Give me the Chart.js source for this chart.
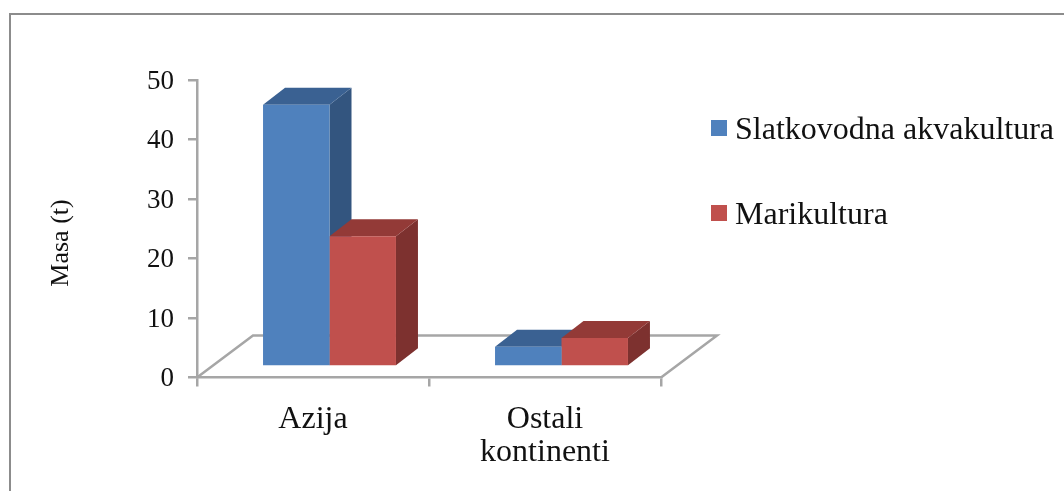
<!DOCTYPE html>
<html lang="en">
<head>
    <meta charset="UTF-8">
    <title>Masa</title>
    <script src="https://cdn.jsdelivr.net/npm/chart.js@4/dist/chart.umd.min.js"></script>
    <style>
        html, body { margin: 0; padding: 0; background: #fff; overflow: hidden; }
        #frame { position: absolute; left: 9px; top: 13px; right: -5px; bottom: -5px; border: 2px solid #8c8c8c; }
        #canvas { position: absolute; left: 0; top: 0; }
    </style>
</head>
<body>
<div id="frame"></div>
<canvas id="canvas" width="1064" height="491"></canvas>
<script>
    var CATEGORIES = ['Azija', ['Ostali', 'kontinenti']];
    var SLATKOVODNA = [44.0, 3.3];
    var MARIKULTURA = [21.9, 4.8];
    var SERIES_NAMES = ['Slatkovodna akvakultura', 'Marikultura'];
    var Y_TITLE = 'Masa (t)';

    var AXIS_GRAY = '#a6a6a6';
    var AXIS_WIDTH = 2.5;
    var TEXT = '#111';
    var SERIF = '"Liberation Serif", serif';

    // pseudo 3d: how far the bars sit from the axis and how deep they are
    var SHIFT_X = 16.5, SHIFT_Y = -11;
    var DEPTH_X = 22, DEPTH_Y = -17;
    var FLOOR_X = 56, FLOOR_Y = -42;

    var FRONT = ['#4f81bd', '#c0504d'];
    var TOP = ['#3a6192', '#933a37'];
    var SIDE = ['#33557f', '#7d312f'];

    var LEGEND_X = 711, LEGEND_BOX = 16, LEGEND_TEXT_X = 735;
    var LEGEND_BOX_Y = [120, 205];
    var LEGEND_BASELINE = [139, 224];
    var TITLE_X = 68, TITLE_Y = 243;

    function face(ctx, color, pts) {
        ctx.fillStyle = color;
        ctx.beginPath();
        ctx.moveTo(pts[0], pts[1]);
        for (var i = 2; i < pts.length; i += 2) {
            ctx.lineTo(pts[i], pts[i + 1]);
        }
        ctx.closePath();
        ctx.fill();
    }

    var bars3d = {
        id: 'bars3d',
        beforeDatasetsDraw: function(chart) {
            var ctx = chart.ctx, a = chart.chartArea;
            ctx.save();
            ctx.strokeStyle = AXIS_GRAY;
            ctx.lineWidth = AXIS_WIDTH;
            ctx.beginPath();
            ctx.moveTo(a.left, a.bottom);
            ctx.lineTo(a.left + FLOOR_X, a.bottom + FLOOR_Y);
            ctx.lineTo(a.right + FLOOR_X, a.bottom + FLOOR_Y);
            ctx.lineTo(a.right, a.bottom);
            ctx.stroke();

            // side and top faces first, blue then red, the library paints the fronts after
            ctx.translate(SHIFT_X, SHIFT_Y);
            chart.data.datasets.forEach(function(ds, i) {
                chart.getDatasetMeta(i).data.forEach(function(el) {
                    var p = el.getProps(['x', 'y', 'base', 'width'], true);
                    var l = p.x - p.width / 2, r = p.x + p.width / 2;
                    face(ctx, SIDE[i], [r, p.y, r + DEPTH_X, p.y + DEPTH_Y, r + DEPTH_X, p.base + DEPTH_Y, r, p.base]);
                    face(ctx, TOP[i], [l, p.y, l + DEPTH_X, p.y + DEPTH_Y, r + DEPTH_X, p.y + DEPTH_Y, r, p.y]);
                });
            });
            ctx.restore();
        },
        beforeDatasetDraw: function(chart) {
            chart.ctx.save();
            chart.ctx.translate(SHIFT_X, SHIFT_Y);
        },
        afterDatasetDraw: function(chart) {
            chart.ctx.restore();
        },
        afterDraw: function(chart) {
            var ctx = chart.ctx;
            ctx.save();
            ctx.font = '32px ' + SERIF;
            ctx.textBaseline = 'alphabetic';
            chart.data.datasets.forEach(function(ds, i) {
                ctx.fillStyle = FRONT[i];
                ctx.fillRect(LEGEND_X, LEGEND_BOX_Y[i], LEGEND_BOX, LEGEND_BOX);
                ctx.fillStyle = TEXT;
                ctx.fillText(ds.label, LEGEND_TEXT_X, LEGEND_BASELINE[i]);
            });
            // axis title sits below the middle of the axis in the original
            ctx.translate(TITLE_X, TITLE_Y);
            ctx.rotate(-Math.PI / 2);
            ctx.font = '26px ' + SERIF;
            ctx.textAlign = 'center';
            ctx.fillText(Y_TITLE, 0, 0);
            ctx.restore();
        }
    };

    window.onload = function() {
        var ctx = document.getElementById('canvas').getContext('2d');
        window.myBar = new Chart(ctx, {
            type: 'bar',
            data: {
                labels: CATEGORIES,
                datasets: [{
                    label: SERIES_NAMES[0],
                    data: SLATKOVODNA,
                    backgroundColor: FRONT[0]
                }, {
                    label: SERIES_NAMES[1],
                    data: MARIKULTURA,
                    backgroundColor: FRONT[1]
                }]
            },
            options: {
                responsive: false,
                animation: false,
                layout: { padding: { left: 40, top: 80, right: 403, bottom: 0 } },
                datasets: { bar: { barPercentage: 1, categoryPercentage: 0.573, clip: false } },
                plugins: {
                    legend: { display: false },
                    tooltip: { enabled: false }
                },
                scales: {
                    x: {
                        afterFit: function(scale) { scale.height = 113.5; },
                        border: { color: AXIS_GRAY, width: AXIS_WIDTH },
                        grid: { drawOnChartArea: false, color: AXIS_GRAY, lineWidth: AXIS_WIDTH, tickLength: 9 },
                        ticks: {
                            color: TEXT,
                            padding: 16,
                            maxRotation: 0,
                            font: { family: SERIF, size: 32, lineHeight: 1.05 }
                        }
                    },
                    y: {
                        min: 0,
                        max: 50,
                        afterFit: function(scale) { scale.width = 157; },
                        border: { color: AXIS_GRAY, width: AXIS_WIDTH },
                        grid: { drawOnChartArea: false, color: AXIS_GRAY, lineWidth: AXIS_WIDTH, tickLength: 9 },
                        ticks: {
                            stepSize: 10,
                            color: TEXT,
                            padding: 14,
                            labelOffset: 1.5,
                            font: { family: SERIF, size: 27 }
                        }
                    }
                }
            },
            plugins: [bars3d]
        });
    };
</script>
</body>
</html>
